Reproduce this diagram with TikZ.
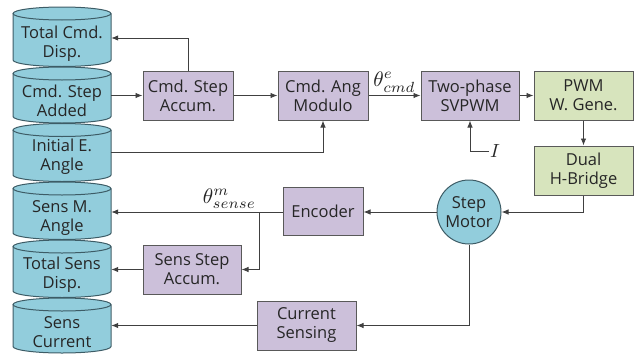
\RequirePackage{fix-cm}
\documentclass[tikz,border=0pt]{standalone}
\usepackage{fontspec}
\setmainfont{Open Sans}
\usetikzlibrary{arrows.meta}

\definecolor{cylfill}{HTML}{92CDDC}
\definecolor{cylline}{HTML}{3D5C66}
\definecolor{boxpurple}{HTML}{CCC0DA}
\definecolor{boxgreen}{HTML}{D7E4BD}
\definecolor{boxline}{HTML}{595959}
\definecolor{wire}{HTML}{404040}

\tikzset{
  txt/.style={font=\fontsize{16.5}{19}\selectfont, align=center, text=black!85},
  blk/.style={txt, rectangle, draw=boxline, line width=1pt, minimum height=49pt, inner sep=1pt},
  pblk/.style={blk, fill=boxpurple},
  gblk/.style={blk, fill=boxgreen},
  motorc/.style={txt, circle, draw=cylline, fill=cylfill, line width=1pt, minimum size=64pt, inner sep=0pt},
  cyltext/.style={txt, minimum width=98pt, inner sep=0pt},
  arr/.style={draw=wire, line width=0.9pt, -{Latex[length=7pt,width=5.5pt]}},
  mathlbl/.style={inner sep=1pt, text=black!85}
}
\newcommand\biglbl[1]{\scalebox{2.1}{$#1$}}

\begin{document}
\begin{tikzpicture}[x=1pt, y=-1pt]
\useasboundingbox (0,0) rectangle (639,359);

% stacked storage cylinders: top, bottom, text centre
\foreach \t/\b/\c/\lab [count=\i] in {
    7/66.5/44/{Total Cmd.\\Disp.},
    67/123/101/{Cmd. Step\\Added},
    123.5/181.5/157/{Initial E.\\Angle},
    182/239.5/218/{Sens M.\\Angle},
    240/297.5/275/{Total Sens\\Disp.},
    298/353/332/{Sens\\Current}} {
  \pgfmathsetmacro{\ta}{\t+6.5}
  \pgfmathsetmacro{\bb}{\b-6.5}
  \fill[cylfill] (13,\ta) rectangle (111,\bb);
  \fill[cylfill] (62,\bb) ellipse [x radius=49, y radius=6.5];
  \draw[cylline, line width=1pt] (13,\ta) -- (13,\bb)
      arc[start angle=180, end angle=0, x radius=49, y radius=6.5] -- (111,\ta);
  \draw[cylline, line width=1pt, fill=cylfill] (62,\ta) ellipse [x radius=49, y radius=6.5];
  \node[cyltext] (cyl\i) at (62,\c) {\lab};
}

% processing blocks
\node[pblk, minimum width=90pt] (acc) at (188,95.5) {Cmd. Step\\Accum.};
\node[pblk, minimum width=90pt] (mod) at (323,95.5) {Cmd. Ang\\Modulo};
\node[pblk, minimum width=98pt] (svp) at (470,95.5) {Two-phase\\SVPWM};
\node[gblk, minimum width=99pt] (pwm) at (583.5,95.5) {PWM\\W. Gene.};
\node[gblk, minimum width=99pt] (hb) at (583.5,170.5) {Dual\\H-Bridge};
\node[motorc] (motor) at (469,212) {Step\\Motor};
\node[pblk, minimum width=80pt, minimum height=48pt] (enc) at (323,211) {Encoder};
\node[pblk, minimum width=98pt] (ssa) at (192,269.5) {Sens Step\\Accum.};
\node[pblk, minimum width=99pt] (cs) at (306.5,325.5) {Current\\Sensing};

% command path
\draw[arr] (acc.north) |- ([yshift=6pt]cyl1.east);
\draw[arr] (cyl2.east |- acc.west) -- (acc.west);
\draw[arr] (acc.east) -- (mod.west);
\draw[arr] ([yshift=5pt]cyl3.east) -| (mod.south);
\draw[arr] (mod.east) -- node[mathlbl, above=2pt] {\biglbl{\theta^{e}_{cmd}}} (svp.west);
\draw[arr] (svp.east) -- (pwm.west);
\node[mathlbl, anchor=west] (ilab) at (489,151) {\scalebox{1.9}{$I$}};
\draw[arr] (ilab.west) -| (svp.south);
\draw[arr] (pwm.south) -- (hb.north);
\draw[arr] (hb.south) |- (motor.east);

% sensing path
\draw[arr] (motor.west) -- (enc.east |- motor.west);
\draw[arr] (enc.west |- motor.west) -- node[mathlbl, above=2pt, pos=0.31] {\biglbl{\theta^{m}_{sense}}} (cyl4.east |- motor.west);
\coordinate (br) at (259,212);
\draw[arr] (br) |- (ssa.east);
\draw[arr] (ssa.west) -- (cyl5.east |- ssa.west);
\draw[arr] (motor.south) |- (cs.east);
\draw[arr] (cs.west) -- (cyl6.east |- cs.west);
\end{tikzpicture}
\end{document}
